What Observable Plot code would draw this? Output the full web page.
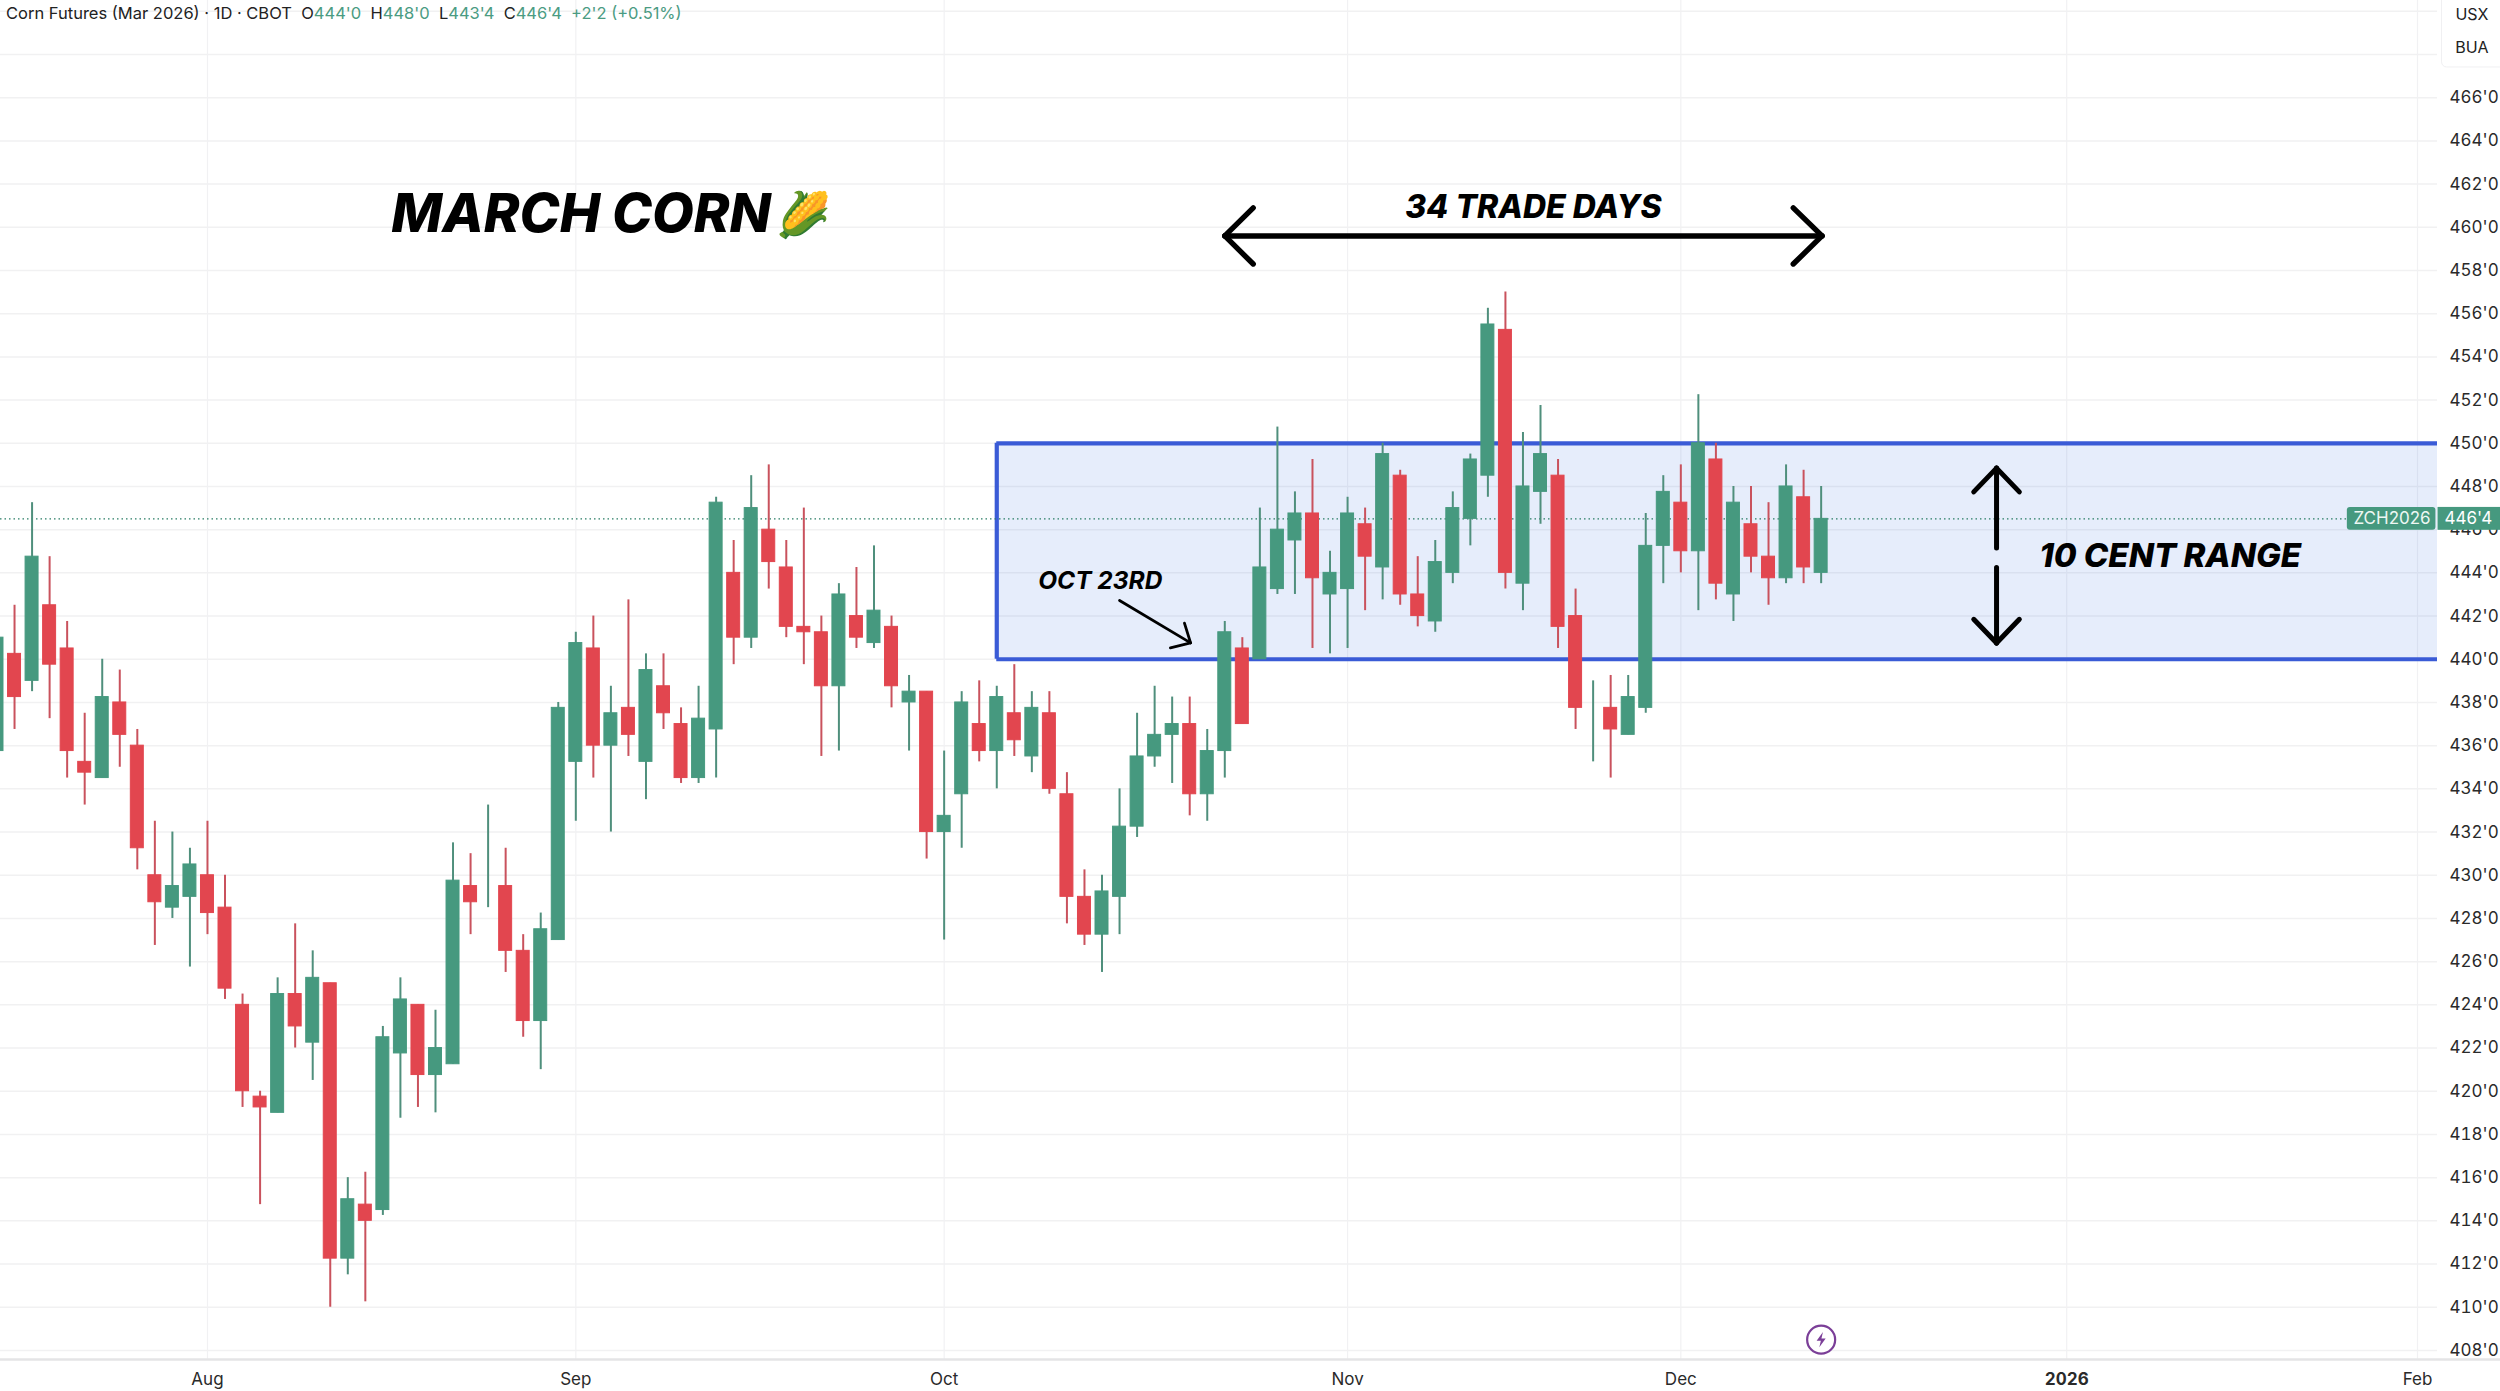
<!DOCTYPE html>
<html>
<head>
<meta charset="utf-8">
<script src="https://cdn.jsdelivr.net/npm/d3@7"></script>
<script src="https://cdn.jsdelivr.net/npm/@observablehq/plot@0.6"></script>
<style>
html,body{margin:0;padding:0;background:#fff;}
#wrap{position:relative;width:2500px;height:1391px;overflow:hidden;font-family:Inter,sans-serif;}
#legend{position:absolute;left:6px;top:3px;font:400 16.5px Inter,sans-serif;color:#222;white-space:pre;}
#legend b{font-weight:400;color:#4a9b82;}
</style>
</head>
<body>
<div id="wrap"><div id="chart"></div>
<div id="legend">Corn Futures (Mar 2026) · 1D · CBOT  O<b>444'0</b>  H<b>448'0</b>  L<b>443'4</b>  C<b>446'4</b>  <b>+2'2 (+0.51%)</b></div>
</div>
<script>
const opens=[435.75,440.25,439,442.5,440.5,435.25,434.5,438,436,430,428.5,429,430,428.5,424,419.75,419,424.5,422.25,425,412.25,414.75,414.5,421.75,424,420.75,421.25,429.5,429.75,429.5,426.5,423.25,427,435.25,440.5,436,437.75,435.25,438.75,437,434.5,436.75,444,441,446,444.25,441.5,441.25,438.75,442,440.75,441.5,438,438.5,432,433.75,437,435.75,437.5,435.5,437.5,433.75,429,427.25,429,432.25,435.5,436.5,437,433.75,435.75,440.5,440,443.25,445.5,446.75,443,443.25,446.25,444.25,448.5,443,441.75,444,446.5,448.5,455.25,443.5,447.75,448.5,442,437.5,437.75,436.5,437.75,445.25,447.25,445,449.25,443,446.25,444.75,443.75,447.5,444];
const highs=[441.25,442.5,447.25,444.75,441.75,437.5,440,439.5,436.75,432.5,432,431.25,432.5,430,424.5,420,425.25,427.75,426.5,425,416,416.25,423,425.25,424,423.75,431.5,431,433.25,431.25,427.25,428.25,438,441.25,442,438.75,442.75,440.25,440.25,437.75,438.75,447.5,445.5,448.5,449,445.5,447,442,443.5,444.25,445.25,442,439.25,438.5,435.75,438.5,439,438.75,439.75,438.5,438.5,434.75,430.25,430,434,437.5,438.75,438.25,438.25,436.75,441.75,441,447,450.75,447.75,449.25,445,447.5,447,450,448.75,444.75,445.5,447.75,449.5,456.25,457,450.5,451.75,449.25,443.25,439,439.25,439.25,446.75,448.5,449,452.25,450,448,448,447.25,449,448.75,448];
const lows=[435.75,436.75,438.5,437.25,434.5,433.25,434.5,435,430.25,426.75,428,425.75,427.25,424.25,419.25,414.75,419,422,420.5,410,411.5,410.25,414.25,418.75,419.25,419,421.25,427.25,428.5,425.5,422.5,421,427,432.5,434.5,432,435.5,433.5,436.75,434.25,434.25,434.5,439.75,440.5,443.25,441,439.75,435.5,435.75,440.5,440.5,437.75,435.75,430.75,427,431.25,435.25,434,435.5,434.75,433.75,427.75,426.75,425.5,427.25,431.75,435,434.25,432.75,432.5,434.5,437,440,443,443,440.5,440.25,440.5,442.25,442.75,442.5,441.5,441.25,443.5,445.25,447.5,443.25,442.25,446.25,440.5,436.75,435.25,434.5,436.5,437.5,443.5,444,442.25,442.75,441.75,444,442.5,443.5,443.5,443.5];
const closes=[441,438.25,444.75,439.75,435.75,434.75,438.25,436.5,431.25,428.75,429.5,430.5,428.25,424.75,420,419.25,424.5,423,425.25,412.25,415,414,422.5,424.25,420.75,422,429.75,428.75,429.75,426.5,423.25,427.5,437.75,440.75,436,437.5,436.5,439.5,437.5,434.5,437.25,447.25,441,447,444.5,441.5,441.25,438.75,443,441,442.25,438.75,438.5,432,432.75,438,435.75,438.25,436.25,437.75,434,429,427.25,429.25,432.25,435.5,436.5,437,433.75,435.75,441.25,437,444.25,446,446.75,443.75,444,446.75,444.75,449.5,443,442,444.5,447,449.25,455.5,444,448,449.5,441.5,437.75,437.5,436.75,438.25,445.25,447.75,445,450,443.5,447.25,444.75,443.75,448,444.25,446.5];

const priceTicks=d3.range(408,468,2);
const gridPrices=d3.range(408,472,2);
const monthIndex=[12,33,54,77,96,138];
const monthLabels=["Aug","Sep","Oct","Nov","Dec","Feb"];
const yearIndex=[118];
const yearLabels=["2026"];
const lastPrice=446.5;
const rangeLow=440, rangeHigh=450;
const rangeStart=57, rangeEnd=139.14;
const xDomain=[0.2,139.14], yDomain=[407.58,470.5];

const green="#46997f", red="#e2464f", wickGreen="#4f8f7c", wickRed="#c9525d", blue="#3a5bd6", ink="#000";
const candles=opens.map((o,i)=>({i,o,h:highs[i],l:lows[i],c:closes[i],col:closes[i]>=o?green:red,wick:closes[i]>=o?wickGreen:wickRed}));

const shafts=[
 {x1:70,y1:459.6,x2:104.05,y2:459.6,w:5.4},
 {x1:70,y1:459.6,x2:71.62,y2:460.9,w:5.4},{x1:70,y1:459.6,x2:71.62,y2:458.3,w:5.4},
 {x1:104.05,y1:459.6,x2:102.41,y2:460.9,w:5.4},{x1:104.05,y1:459.6,x2:102.41,y2:458.3,w:5.4},
 {x1:114,y1:448.85,x2:114,y2:445.15,w:5},
 {x1:114,y1:448.85,x2:112.7,y2:447.75,w:5},{x1:114,y1:448.85,x2:115.3,y2:447.75,w:5},
 {x1:114,y1:444.25,x2:114,y2:440.75,w:5},
 {x1:114,y1:440.75,x2:112.7,y2:441.85,w:5},{x1:114,y1:440.75,x2:115.3,y2:441.85,w:5},
 {x1:64,y1:442.72,x2:68.05,y2:440.76,w:2.8},
 {x1:68.05,y1:440.76,x2:67.7,y2:441.67,w:2.8},{x1:68.05,y1:440.76,x2:66.9,y2:440.53,w:2.8}
];
const heavyLabels=[
 {x:33.3,y:460.6,t:"MARCH CORN",fs:54},
 {x:87.6,y:460.9,t:"34 TRADE DAYS",fs:32},
 {x:123.9,y:444.75,t:"10 CENT RANGE",fs:33}
];
const boldLabels=[
 {x:62.9,y:443.62,t:"OCT 23RD",fs:24.5}
];
const bolt={draw(c,s){const r=Math.sqrt(s);c.moveTo(.12*r,-.5*r);c.lineTo(-.3*r,.08*r);c.lineTo(-.02*r,.08*r);c.lineTo(-.12*r,.5*r);c.lineTo(.3*r,-.08*r);c.lineTo(.02*r,-.08*r);c.closePath();}};

const chart=Plot.plot({
 width:2500,height:1391,marginLeft:0,marginTop:0,marginRight:63,marginBottom:32,
 style:{fontFamily:"Inter, sans-serif",background:"#fff",color:"#2a2a2a"},
 x:{type:"linear",domain:xDomain,axis:null},
 y:{type:"linear",domain:yDomain,axis:null},
 marks:[
  Plot.ruleY(gridPrices,{stroke:"#f1f1f2",strokeWidth:1.5}),
  Plot.ruleX([...monthIndex,...yearIndex],{stroke:"#f1f1f3",strokeWidth:1.2}),
  Plot.rect([{}],{x1:rangeStart,x2:rangeEnd,y1:rangeLow,y2:rangeHigh,fill:"#3a6fe0",fillOpacity:.125}),
  Plot.ruleY([rangeLow,rangeHigh],{x1:rangeStart,x2:rangeEnd,stroke:blue,strokeWidth:4.2}),
  Plot.ruleX([rangeStart],{y1:rangeLow,y2:rangeHigh,stroke:blue,strokeWidth:4.2}),
  Plot.ruleY([lastPrice],{x1:xDomain[0],x2:134,stroke:"#2a7d65",strokeWidth:1.2,strokeDasharray:"1.5,3"}),
  Plot.ruleX(candles,{x:"i",y1:"l",y2:"h",stroke:"wick",strokeWidth:2}),
  Plot.rect(candles,{x1:d=>d.i-.37,x2:d=>d.i+.37,y1:"o",y2:"c",fill:"col",stroke:"col",strokeWidth:1}),
  Plot.link(shafts,{x1:"x1",y1:"y1",x2:"x2",y2:"y2",stroke:ink,strokeWidth:"w",strokeLinecap:"round"}),
  Plot.text(heavyLabels,{x:"x",y:"y",text:"t",fontSize:"fs",fontWeight:800,fontStyle:"italic",fill:ink,textAnchor:"middle",lineAnchor:"middle"}),
  Plot.text(boldLabels,{x:"x",y:"y",text:"t",fontSize:"fs",fontWeight:700,fontStyle:"italic",fill:ink,textAnchor:"middle",lineAnchor:"middle"}),
  Plot.text(["🌽"],{x:46,y:460.55,fontSize:44,textAnchor:"middle",lineAnchor:"middle",fontFamily:"Noto Color Emoji, sans-serif"}),
  Plot.dot([{}],{x:104,y:408.5,r:14,stroke:"#7b3f98",strokeWidth:2.2,fill:"#fff"}),
  Plot.dot([{}],{x:104,y:408.5,r:8.5,symbol:bolt,fill:"#7b3f98"}),
  Plot.axisX({ticks:monthIndex,tickFormat:(d,i)=>monthLabels[i],tickSize:0,tickPadding:13,fontSize:17,label:null,anchor:"bottom"}),
  Plot.axisX({ticks:yearIndex,tickFormat:(d,i)=>yearLabels[i],tickSize:0,tickPadding:13,fontSize:17,fontWeight:700,label:null,anchor:"bottom"}),
  Plot.axisY({ticks:priceTicks,tickFormat:d=>`${d}'0`,anchor:"right",tickSize:0,tickPadding:12,fontSize:17,label:null}),
  Plot.ruleY([yDomain[0]],{x1:xDomain[0],x2:143,stroke:"#e4e4e6",strokeWidth:2.4}),
  Plot.rect([{}],{x1:134,x2:139.05,y1:445.97,y2:447.03,fill:green,rx:3}),
  Plot.rect([{}],{x1:139.17,x2:143,y1:445.97,y2:447.03,fill:green}),
  Plot.text(["ZCH2026"],{x:136.55,y:446.5,fill:"#eef7f3",fontSize:17,textAnchor:"middle",lineAnchor:"middle"}),
  Plot.text(["446'4"],{x:140.9,y:446.5,fill:"#fff",fontSize:17,textAnchor:"middle",lineAnchor:"middle"}),
  Plot.rect([{}],{x1:139.4,x2:143,y1:467.4,y2:471,fill:"#fff",stroke:"#f0f0f2",rx:5}),
  Plot.text(["USX"],{x:141.1,y:469.85,fontSize:16,fill:"#222",lineAnchor:"middle"}),
  Plot.text(["BUA"],{x:141.1,y:468.3,fontSize:16,fill:"#222",lineAnchor:"middle"})
 ]
});
document.getElementById("chart").appendChild(chart);
</script>
</body>
</html>
